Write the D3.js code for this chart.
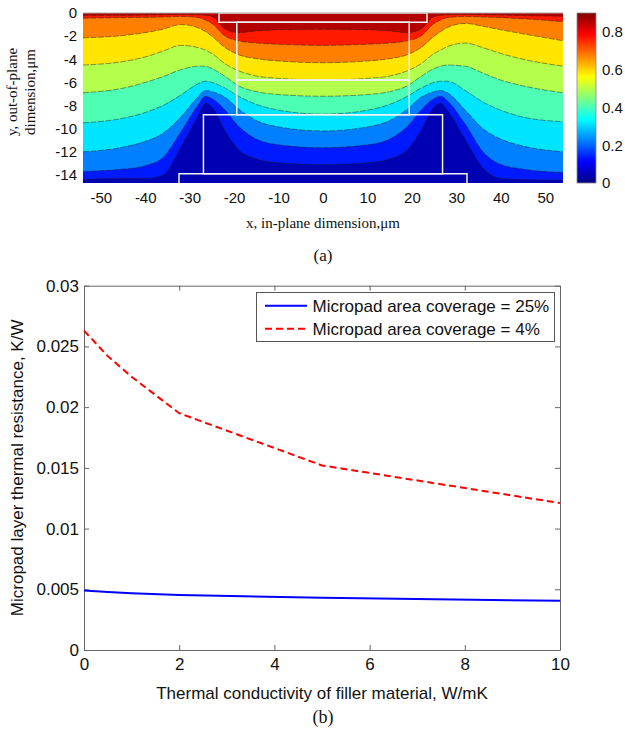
<!DOCTYPE html>
<html>
<head>
<meta charset="utf-8">
<script src="https://cdn.jsdelivr.net/npm/d3@7"></script>
<style>
  body { margin: 0; background: #fff; }
  svg { display: block; }
  .sans { font-family: "Liberation Sans", Arial, Helvetica, sans-serif; }
  .serif { font-family: "Liberation Serif", "Times New Roman", serif; }
</style>
</head>
<body>
<svg id="fig" width="625" height="734"></svg>
<script>
// ---- (a) contour: x positions (um) and the depth (um) of each contour line ----
var xs = [-54, -45, -40, -36, -32, -28, -26.5, -25, -22, -19, -15, -10, 0, 10, 15, 19, 22, 25, 26.5, 28, 32, 36, 40, 45, 54];
var levels = [0.09, 0.18, 0.27, 0.36, 0.45, 0.54, 0.63, 0.72, 0.81];
var line1 = [-14.4, -14.3, -14.3, -14.0, -11.6, -8.8, -7.8, -8.1, -10.2, -11.8, -12.6, -12.95, -13.1, -12.95, -12.6, -11.8, -10.2, -8.1, -7.8, -8.4, -10.9, -13.4, -14.3, -14.4, -14.45];
var line2 = [-13.7, -13.5, -13.2, -12.5, -10.3, -7.9, -7.2, -7.4, -8.4, -9.8, -10.9, -11.4, -11.65, -11.4, -10.9, -9.8, -8.4, -7.4, -7.2, -7.6, -9.6, -12.0, -13.1, -13.5, -13.8];
var line3 = [-12.0, -11.6, -11.1, -10.4, -9.0, -7.2, -6.7, -6.8, -7.3, -8.3, -9.3, -9.85, -10.2, -9.85, -9.3, -8.3, -7.3, -6.8, -6.7, -6.9, -8.4, -10.0, -10.9, -11.5, -12.0];
var line4 = [-9.5, -9.1, -8.6, -8.0, -7.1, -6.1, -5.9, -6.0, -6.5, -7.2, -7.9, -8.4, -8.75, -8.4, -7.9, -7.2, -6.5, -6.0, -5.9, -5.9, -6.7, -7.7, -8.4, -9.0, -9.4];
var line5 = [-6.9, -6.5, -6.0, -5.5, -4.9, -4.6, -4.6, -4.8, -5.5, -6.3, -6.8, -7.05, -7.2, -7.05, -6.8, -6.3, -5.5, -4.8, -4.6, -4.5, -4.6, -5.2, -5.8, -6.3, -6.9];
var line6 = [-4.5, -4.2, -3.8, -3.3, -2.8, -3.0, -3.2, -3.5, -4.4, -5.0, -5.45, -5.65, -5.8, -5.65, -5.45, -5.0, -4.4, -3.5, -3.2, -2.9, -2.6, -3.0, -3.5, -4.0, -4.6];
var line7 = [-2.15, -1.95, -1.7, -1.4, -1.0, -1.3, -1.6, -2.0, -3.0, -3.6, -3.95, -4.15, -4.3, -4.15, -3.95, -3.6, -3.0, -2.0, -1.6, -1.25, -0.9, -1.15, -1.45, -1.8, -2.4];
var line8 = [-0.45, -0.4, -0.38, -0.35, -0.3, -0.4, -0.6, -0.9, -2.0, -2.4, -2.6, -2.7, -2.8, -2.7, -2.6, -2.4, -2.0, -0.9, -0.6, -0.4, -0.3, -0.35, -0.4, -0.5, -0.75];
var line9 = [-0.2, -0.2, -0.18, -0.15, -0.12, -0.15, -0.2, -0.3, -1.4, -1.7, -1.55, -1.45, -1.4, -1.45, -1.55, -1.7, -1.4, -0.3, -0.2, -0.15, -0.12, -0.15, -0.18, -0.22, -0.28];
var contourLines = [line1, line2, line3, line4, line5, line6, line7, line8, line9];

// white outlines of the pad / filler / bump / base layers
var structX0 = [-23.4, -19.4, -19.4, -26.9, -32.4];
var structX1 = [23.4, 19.4, 19.4, 26.9, 32.4];
var structTop = [0, -0.8, -5.8, -8.8, -13.9];
var structBottom = [-0.8, -5.8, -8.8, -13.9, -15];

var aXTicks = [-50, -40, -30, -20, -10, 0, 10, 20, 30, 40, 50];
var aYTicks = [0, -2, -4, -6, -8, -10, -12, -14];
var cbarTicks = [0, 0.2, 0.4, 0.6, 0.8];

// ---- (b) thermal resistance vs filler conductivity ----
var kFiller = [0, 0.5, 1, 2, 5, 10];
var res25 = [0.0049, 0.00478, 0.00468, 0.00453, 0.0043, 0.00405];
var res4 = [0.0263, 0.0242, 0.0225, 0.0195, 0.0152, 0.0121];
var seriesNames = ["Micropad area coverage = 25%", "Micropad area coverage = 4%"];
var bXTicks = [0, 2, 4, 6, 8, 10];
var bYTicks = [0, 0.005, 0.01, 0.015, 0.02, 0.025, 0.03];

var svg = d3.select("#fig");

function jet(t) {
  var c = function(v) { return Math.round(255 * Math.max(0, Math.min(1, v))); };
  return d3.rgb(c(1.5 - Math.abs(4 * t - 3)), c(1.5 - Math.abs(4 * t - 2)), c(1.5 - Math.abs(4 * t - 1))).formatHex();
}

// ======== panel (a) ========
var ax = d3.scaleLinear().domain([-54, 54]).range([83, 563]);
var ay = d3.scaleLinear().domain([-14.7, 0]).range([183, 13]);
var cb = d3.scaleLinear().domain([0, 0.9]).range([183, 13]);

svg.append("clipPath").attr("id", "clipA")
  .append("rect")
  .attr("x", ax.range()[0]).attr("y", ay.range()[1])
  .attr("width", ax.range()[1] - ax.range()[0])
  .attr("height", ay.range()[0] - ay.range()[1]);

var pa = svg.append("g").attr("clip-path", "url(#clipA)");

// lowest band first, every next level painted on top up to y = 0
pa.append("rect")
  .attr("x", ax.range()[0]).attr("y", ay.range()[1])
  .attr("width", ax.range()[1] - ax.range()[0])
  .attr("height", ay.range()[0] - ay.range()[1])
  .attr("fill", jet(0.05));

var band = d3.area()
  .x((d, i) => ax(xs[i]))
  .y0(d => ay(d))
  .y1(ay(0))
  .curve(d3.curveMonotoneX);

pa.selectAll("path.band")
  .data(contourLines)
  .enter()
  .append("path")
  .attr("class", "band")
  .attr("d", band)
  .attr("fill", (d, i) => jet((i + 1.5) / 10));

var cline = d3.line()
  .x((d, i) => ax(xs[i]))
  .y(d => ay(d))
  .curve(d3.curveMonotoneX);

pa.selectAll("path.cline")
  .data(contourLines)
  .enter()
  .append("path")
  .attr("class", "cline")
  .attr("d", cline)
  .attr("fill", "none")
  .attr("stroke", "#222")
  .attr("stroke-opacity", 0.6)
  .attr("stroke-width", 0.8)
  .attr("stroke-dasharray", "6,1.5");

pa.selectAll("rect.struct")
  .data(structX0)
  .enter()
  .append("rect")
  .attr("class", "struct")
  .attr("x", (d, i) => ax(structX0[i]))
  .attr("y", (d, i) => ay(structTop[i]))
  .attr("width", (d, i) => ax(structX1[i]) - ax(structX0[i]))
  .attr("height", (d, i) => ay(structBottom[i]) - ay(structTop[i]))
  .attr("fill", "none")
  .attr("stroke", "#f2f2f2")
  .attr("stroke-width", 1.5);

svg.append("line")
  .attr("x1", ax.range()[0]).attr("x2", ax.range()[1])
  .attr("y1", ay(0)).attr("y2", ay(0))
  .attr("stroke", "#aaa").attr("stroke-width", 1);

var axA = svg.append("g").attr("class", "sans")
  .attr("transform", "translate(0," + ay.range()[0] + ")")
  .call(d3.axisBottom(ax).tickValues(aXTicks).tickSize(0).tickPadding(9).tickFormat(d => String(d)));
var ayA = svg.append("g").attr("class", "sans")
  .attr("transform", "translate(" + ax.range()[0] + ",0)")
  .call(d3.axisLeft(ay).tickValues(aYTicks).tickSize(0).tickPadding(6).tickFormat(d => String(d)));
[axA, ayA].forEach(g => {
  g.select(".domain").remove();
  g.selectAll("text").attr("font-size", 15).attr("fill", "#111").attr("font-family", null);
});

// colorbar
var grad = svg.append("defs").append("linearGradient")
  .attr("id", "jetGrad").attr("x1", 0).attr("y1", 1).attr("x2", 0).attr("y2", 0);
d3.range(0, 1.0001, 0.125).forEach(t => {
  grad.append("stop").attr("offset", t).attr("stop-color", jet(t));
});
svg.append("rect")
  .attr("x", 577).attr("y", cb.range()[1])
  .attr("width", 19).attr("height", cb.range()[0] - cb.range()[1])
  .attr("fill", "url(#jetGrad)")
  .attr("stroke", "#888").attr("stroke-width", 0.8);
var cbAxis = svg.append("g").attr("class", "sans")
  .attr("transform", "translate(596,0)")
  .call(d3.axisRight(cb).tickValues(cbarTicks).tickSize(0).tickPadding(6).tickFormat(d => String(d)));
cbAxis.select(".domain").remove();
cbAxis.selectAll("text").attr("font-size", 15).attr("fill", "#111").attr("font-family", null);

// labels for (a)
svg.append("text").attr("class", "serif")
  .attr("x", (ax.range()[0] + ax.range()[1]) / 2).attr("y", 228)
  .attr("text-anchor", "middle").attr("font-size", 15).attr("fill", "#111")
  .text("x, in-plane dimension,\u03bcm");
var ylabA = svg.append("text").attr("class", "serif")
  .attr("transform", "translate(0,92) rotate(-90)")
  .attr("text-anchor", "middle").attr("font-size", 15).attr("fill", "#111");
ylabA.append("tspan").attr("x", 0).attr("y", 17).text("y, out-of-plane");
ylabA.append("tspan").attr("x", 0).attr("y", 35).text("dimension,\u03bcm");
svg.append("text").attr("class", "serif")
  .attr("x", 323).attr("y", 261)
  .attr("text-anchor", "middle").attr("font-size", 17).attr("fill", "#111")
  .text("(a)");

// ======== panel (b) ========
var bx = d3.scaleLinear().domain([0, 10]).range([84, 560]);
var by = d3.scaleLinear().domain([0, 0.03]).range([650, 285.7]);
var axisColor = "#666";

function styleAxis(g) {
  g.select(".domain").attr("stroke", axisColor);
  g.selectAll(".tick line").attr("stroke", axisColor);
  g.selectAll("text").attr("font-size", 17).attr("fill", "#111").attr("font-family", null);
}

svg.append("g").attr("class", "sans")
  .attr("transform", "translate(0," + by(0) + ")")
  .call(d3.axisBottom(bx).tickValues(bXTicks).tickSizeInner(-5).tickSizeOuter(0).tickPadding(8).tickFormat(d => String(d)))
  .call(styleAxis);
svg.append("g").attr("class", "sans")
  .attr("transform", "translate(0," + by(0.03) + ")")
  .call(d3.axisTop(bx).tickValues(bXTicks).tickSizeInner(-5).tickSizeOuter(0).tickFormat(""))
  .call(styleAxis);
svg.append("g").attr("class", "sans")
  .attr("transform", "translate(" + bx(0) + ",0)")
  .call(d3.axisLeft(by).tickValues(bYTicks).tickSizeInner(-5).tickSizeOuter(0).tickPadding(5).tickFormat(d => String(+d.toFixed(3))))
  .call(styleAxis);
svg.append("g").attr("class", "sans")
  .attr("transform", "translate(" + bx(10) + ",0)")
  .call(d3.axisRight(by).tickValues(bYTicks).tickSizeInner(-5).tickSizeOuter(0).tickFormat(""))
  .call(styleAxis);

var line = d3.line()
  .x((d, i) => bx(kFiller[i]))
  .y(d => by(d));

svg.append("path")
  .attr("d", line(res25))
  .attr("fill", "none")
  .attr("stroke", "#0000ff")
  .attr("stroke-width", 2);
svg.append("path")
  .attr("d", line(res4))
  .attr("fill", "none")
  .attr("stroke", "#ff0000")
  .attr("stroke-width", 2)
  .attr("stroke-dasharray", "7,4");

// legend
var lg = svg.append("g").attr("class", "sans");
lg.append("rect")
  .attr("x", 256.5).attr("y", 292.5).attr("width", 298).attr("height", 49)
  .attr("fill", "#fff").attr("stroke", "#555").attr("stroke-width", 1);
var legendColors = ["#0000ff", "#ff0000"];
var legendDash = [null, "7,4"];
seriesNames.forEach((name, i) => {
  var yy = 305.7 + i * 23;
  lg.append("line")
    .attr("x1", 265).attr("x2", 307).attr("y1", yy).attr("y2", yy)
    .attr("stroke", legendColors[i]).attr("stroke-width", 2)
    .attr("stroke-dasharray", legendDash[i]);
  lg.append("text")
    .attr("x", 312.5).attr("y", yy + 6.3)
    .attr("font-size", 17).attr("fill", "#111")
    .text(name);
});

// labels for (b)
svg.append("text").attr("class", "sans")
  .attr("x", (bx(0) + bx(10)) / 2).attr("y", 699)
  .attr("text-anchor", "middle").attr("font-size", 17).attr("fill", "#111")
  .text("Thermal conductivity of filler material, W/mK");
svg.append("text").attr("class", "sans")
  .attr("transform", "translate(23," + (by(0) + by(0.03)) / 2 + ") rotate(-90)")
  .attr("text-anchor", "middle").attr("font-size", 17).attr("fill", "#111")
  .text("Micropad layer thermal resistance, K/W");
svg.append("text").attr("class", "serif")
  .attr("x", 323).attr("y", 723)
  .attr("text-anchor", "middle").attr("font-size", 18).attr("fill", "#111")
  .text("(b)");
</script>
</body>
</html>
